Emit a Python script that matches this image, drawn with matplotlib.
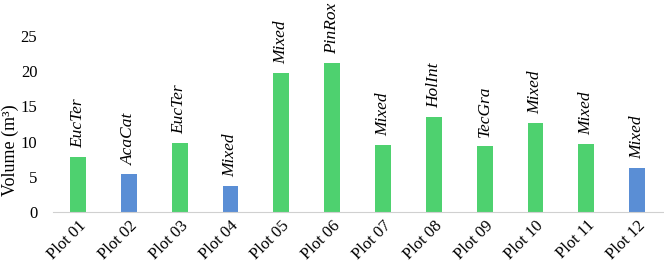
import matplotlib.pyplot as plt

plots = ['Plot 01', 'Plot 02', 'Plot 03', 'Plot 04', 'Plot 05', 'Plot 06',
         'Plot 07', 'Plot 08', 'Plot 09', 'Plot 10', 'Plot 11', 'Plot 12']
volume = [7.8, 5.35, 9.8, 3.7, 19.8, 21.2, 9.5, 13.5, 9.4, 12.7, 9.7, 6.2]
species = ['EucTer', 'AcaCat', 'EucTer', 'Mixed', 'Mixed', 'PinRox',
           'Mixed', 'HolInt', 'TecGra', 'Mixed', 'Mixed', 'Mixed']
group = ['g', 'b', 'g', 'b', 'g', 'g', 'g', 'g', 'g', 'g', 'g', 'b']

colors = {'g': '#4ed16f', 'b': '#5a8ed5'}

plt.rcParams['font.family'] = 'Liberation Serif'

fig = plt.figure(figsize=(6.64, 2.68), dpi=100)
ax = fig.add_axes([52.6 / 664, (268 - 212) / 268, 610 / 664, 176 / 268])

x = list(range(len(plots)))
ax.bar(x, volume, width=0.31, color=[colors[g] for g in group])

for xi, v, s in zip(x, volume, species):
    ax.annotate(s, (xi, v), xytext=(0, 6.5), textcoords='offset points',
                rotation=90, ha='center', va='bottom', style='italic',
                fontsize=12.5, annotation_clip=False)

ax.set_xlim(-0.5, len(plots) - 0.5)
ax.set_ylim(0, 25)
ax.set_yticks([0, 5, 10, 15, 20, 25])
ax.set_xticks(x)
ax.set_xticklabels(plots, rotation=45, ha='right', rotation_mode='anchor', fontsize=12)
ax.tick_params(axis='both', length=0, labelsize=12)
ax.tick_params(axis='x', pad=4)
ax.tick_params(axis='y', pad=11)
ax.set_ylabel('Volume (m³)', fontsize=13)
ax.yaxis.set_label_coords(-0.055, 0.35)

for side in ['top', 'right', 'left']:
    ax.spines[side].set_visible(False)
ax.spines['bottom'].set_color('#d0d0d0')

fig.savefig('out.png', dpi=100)
